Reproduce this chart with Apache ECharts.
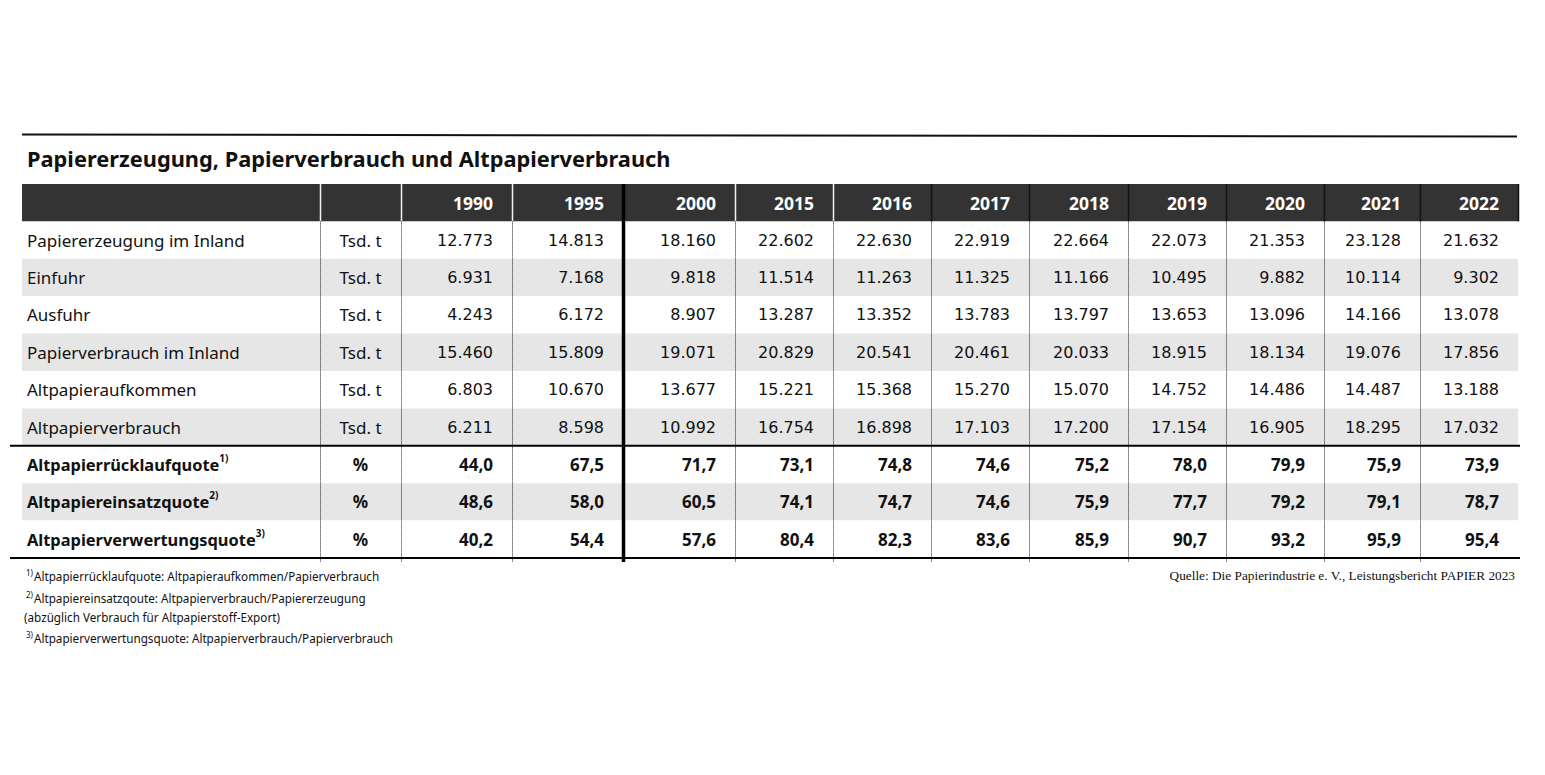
<!DOCTYPE html>
<html>
<head>
<meta charset="utf-8">
<title>Papiererzeugung, Papierverbrauch und Altpapierverbrauch</title>
<script src="https://cdn.jsdelivr.net/npm/echarts@6/dist/echarts.min.js"></script>
<style>
  html, body { margin: 0; padding: 0; background: #fff; }
  #chart { width: 1545px; height: 775px; }
</style>
</head>
<body>
<div id="chart"></div>
<script>
// --- Daten ---
const years = ['1990', '1995', '2000', '2015', '2016', '2017', '2018', '2019', '2020', '2021', '2022']
const rowLabels = [
  'Papiererzeugung im Inland',
  'Einfuhr',
  'Ausfuhr',
  'Papierverbrauch im Inland',
  'Altpapieraufkommen',
  'Altpapierverbrauch',
  'Altpapierrücklaufquote',
  'Altpapiereinsatzquote',
  'Altpapierverwertungsquote'
]
const rowUnits = ['Tsd. t', 'Tsd. t', 'Tsd. t', 'Tsd. t', 'Tsd. t', 'Tsd. t', '%', '%', '%']
const footnoteRefs = ['', '', '', '', '', '', '1)', '2)', '3)']

// Tsd. t
const papiererzeugung = [12773, 14813, 18160, 22602, 22630, 22919, 22664, 22073, 21353, 23128, 21632]
const einfuhr = [6931, 7168, 9818, 11514, 11263, 11325, 11166, 10495, 9882, 10114, 9302]
const ausfuhr = [4243, 6172, 8907, 13287, 13352, 13783, 13797, 13653, 13096, 14166, 13078]
const papierverbrauch = [15460, 15809, 19071, 20829, 20541, 20461, 20033, 18915, 18134, 19076, 17856]
const altpapieraufkommen = [6803, 10670, 13677, 15221, 15368, 15270, 15070, 14752, 14486, 14487, 13188]
const altpapierverbrauch = [6211, 8598, 10992, 16754, 16898, 17103, 17200, 17154, 16905, 18295, 17032]
// %
const ruecklaufquote = [44.0, 67.5, 71.7, 73.1, 74.8, 74.6, 75.2, 78.0, 79.9, 75.9, 73.9]
const einsatzquote = [48.6, 58.0, 60.5, 74.1, 74.7, 74.6, 75.9, 77.7, 79.2, 79.1, 78.7]
const verwertungsquote = [40.2, 54.4, 57.6, 80.4, 82.3, 83.6, 85.9, 90.7, 93.2, 95.9, 95.4]

const rowValues = [papiererzeugung, einfuhr, ausfuhr, papierverbrauch, altpapieraufkommen,
  altpapierverbrauch, ruecklaufquote, einsatzquote, verwertungsquote]

const footnotes = [
  ['1)', 'Altpapierrücklaufquote: Altpapieraufkommen/Papierverbrauch'],
  ['2)', 'Altpapiereinsatzqoute: Altpapierverbrauch/Papiererzeugung'],
  ['', '(abzüglich Verbrauch für Altpapierstoff-Export)'],
  ['3)', 'Altpapierverwertungsquote: Altpapierverbrauch/Papierverbrauch']
]
const source = 'Quelle: Die Papierindustrie e. V., Leistungsbericht PAPIER 2023'
const title = 'Papiererzeugung, Papierverbrauch und Altpapierverbrauch'

// --- Layout (Spaltengrenzen in Pixeln ab linkem Tabellenrand) ---
const colEdges = [0, 298, 379, 490, 601, 713, 811, 909, 1007, 1106, 1204, 1302, 1398, 1496]
const thickEdge = 4
const SANS = '"Noto Sans", "DejaVu Sans", sans-serif'
const NUM = '"DejaVu Sans", sans-serif'
const SERIF = '"Liberation Serif", "DejaVu Serif", serif'

function fmtInt(v) {
  return String(v).replace(/\B(?=(\d{3})+(?!\d))/g, '.')
}
function fmtPct(v) {
  return v.toFixed(1).replace('.', ',')
}

const rowNames = [''].concat(rowLabels)

// Zellen aufbauen
const cells = []
years.forEach((y, i) => {
  cells.push({ x0: colEdges[i + 2], x1: colEdges[i + 3], row: 0, text: y, kind: 'head' })
})
rowLabels.forEach((label, r) => {
  const bold = rowUnits[r] === '%'
  const ref = footnoteRefs[r]
  cells.push({ x0: colEdges[0], x1: colEdges[1], row: r + 1, text: ref ? label + '{sup|' + ref + '}' : label, kind: bold ? 'labelBold' : 'label' })
  cells.push({ x0: colEdges[1], x1: colEdges[2], row: r + 1, text: rowUnits[r], kind: bold ? 'unitBold' : 'unit' })
  rowValues[r].forEach((v, i) => {
    cells.push({ x0: colEdges[i + 2], x1: colEdges[i + 3], row: r + 1, text: bold ? fmtPct(v) : fmtInt(v), kind: bold ? 'valBold' : 'val' })
  })
})

const chart = echarts.init(document.getElementById('chart'), null, { renderer: 'svg' })

chart.setOption({
  animation: false,
  grid: { left: 22, right: 27, top: 184, bottom: 217 },
  xAxis: { type: 'value', min: 0, max: colEdges[colEdges.length - 1], show: false },
  yAxis: { type: 'category', data: rowNames, inverse: true, show: false },
  graphic: [
    { type: 'line', shape: { x1: 22, y1: 134.5, x2: 1517, y2: 136.5 }, style: { stroke: '#111', lineWidth: 2 } },
    { type: 'text', x: 27, y: 158, style: { text: title, fontFamily: SANS, fontSize: 21.8, fontWeight: 'bold', fill: '#111', verticalAlign: 'middle' } },
    ...footnotes.map((f, i) => ({
      type: 'text', x: f[0] ? 26 : 24, y: [576, 598, 617, 638][i],
      style: {
        text: (f[0] ? '{s|' + f[0] + '}' : '') + f[1],
        fontFamily: SANS, fontSize: 11.7, fill: '#111', verticalAlign: 'middle',
        rich: { s: { fontFamily: SANS, fontSize: 8, fill: '#111', padding: [0, 1, 8, 0] } }
      }
    })),
    { type: 'text', x: 1515, y: 575, style: { text: source, fontFamily: SERIF, fontSize: 13.3, fill: '#111', align: 'right', verticalAlign: 'middle' } }
  ],
  series: [
    {
      // Zeilenhintergründe
      type: 'custom',
      z: 1,
      data: rowNames.map((_, i) => [0, i, colEdges[colEdges.length - 1]]),
      renderItem(params, api) {
        const row = api.value(1)
        const a = api.coord([api.value(0), row])
        const b = api.coord([api.value(2), row])
        const h = api.size([0, 1])[1]
        const fill = row === 0 ? '#333333' : (row % 2 === 0 ? '#e6e6e6' : '#ffffff')
        return { type: 'rect', shape: { x: a[0], y: a[1] - h / 2, width: b[0] - a[0], height: h }, style: { fill } }
      }
    },
    {
      // Spaltentrenner
      type: 'custom',
      z: 2,
      data: colEdges.slice(1).map((x, i) => [x, i + 1]),
      renderItem(params, api) {
        const idx = api.value(1)
        const top = api.coord([api.value(0), 0])
        const bot = api.coord([api.value(0), rowNames.length - 1])
        const h = api.size([0, 1])[1]
        const x = Math.round(top[0]) + 0.5
        const y0 = top[1] - h / 2
        const y1 = top[1] + h / 2
        const y2 = bot[1] + h / 2 + 4
        const children = []
        if (idx === thickEdge) {
          children.push({ type: 'line', shape: { x1: x, y1: y0, x2: x, y2: y2 }, style: { stroke: '#000', lineWidth: 3.5 } })
        } else {
          children.push({ type: 'line', shape: { x1: x, y1: y0, x2: x, y2: y1 }, style: { stroke: idx < 7 ? '#f2f2f2' : '#111', lineWidth: 1.5 } })
          if (idx < colEdges.length - 1) {
            children.push({ type: 'line', shape: { x1: x, y1: y1, x2: x, y2: y2 }, style: { stroke: '#222', lineWidth: 1, lineDash: [1, 1] } })
          }
        }
        return { type: 'group', children }
      }
    },
    {
      // horizontale Linien
      type: 'custom',
      z: 3,
      data: [[-12, 6, colEdges[colEdges.length - 1] + 2], [-12, 9, colEdges[colEdges.length - 1] + 2]],
      renderItem(params, api) {
        const a = api.coord([api.value(0), api.value(1)])
        const b = api.coord([api.value(2), api.value(1)])
        const h = api.size([0, 1])[1]
        const y = a[1] + h / 2
        return { type: 'line', shape: { x1: a[0], y1: y, x2: b[0], y2: y }, style: { stroke: '#000', lineWidth: 2 } }
      }
    },
    {
      // Zelltexte
      type: 'custom',
      z: 4,
      data: cells.map(c => [c.x0, c.row, c.x1]),
      renderItem(params, api) {
        const cell = cells[params.dataIndex]
        const a = api.coord([api.value(0), api.value(1)])
        const b = api.coord([api.value(2), api.value(1)])
        const style = { text: cell.text, y: a[1], verticalAlign: 'middle', fill: '#111', fontFamily: SANS, fontSize: 17 }
        switch (cell.kind) {
          case 'head':
            Object.assign(style, { x: b[0] - 19, align: 'right', fill: '#fff', fontWeight: 'bold', fontSize: 17.5 })
            break
          case 'label':
            Object.assign(style, { x: a[0] + 5, align: 'left' })
            break
          case 'labelBold':
            Object.assign(style, {
              x: a[0] + 5, align: 'left', fontWeight: 'bold', fontSize: 16.4,
              rich: { sup: { fontFamily: SANS, fontSize: 10, fontWeight: 'bold', fill: '#111', padding: [0, 0, 13, 0] } }
            })
            break
          case 'unit':
            Object.assign(style, { x: (a[0] + b[0]) / 2, align: 'center' })
            break
          case 'unitBold':
            Object.assign(style, { x: (a[0] + b[0]) / 2, align: 'center', fontWeight: 'bold' })
            break
          case 'val':
            Object.assign(style, { x: b[0] - 19, align: 'right', fontFamily: NUM, fontSize: 16 })
            break
          case 'valBold':
            Object.assign(style, { x: b[0] - 19, align: 'right', fontWeight: 'bold' })
            break
        }
        return { type: 'text', style }
      }
    }
  ]
})
</script>
</body>
</html>
